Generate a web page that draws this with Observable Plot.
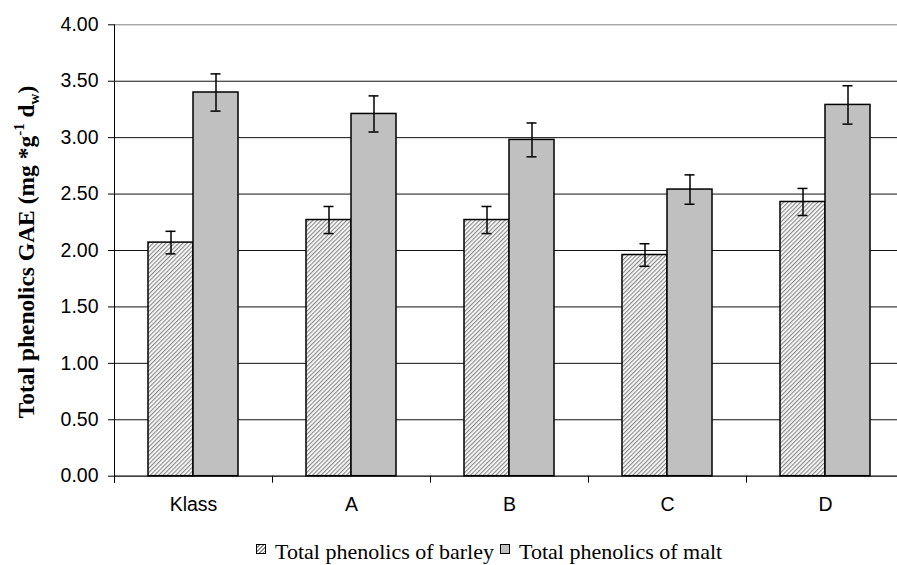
<!DOCTYPE html>
<html><head><meta charset="utf-8">
<script src="https://cdn.jsdelivr.net/npm/d3@7"></script>
<script src="https://cdn.jsdelivr.net/npm/@observablehq/plot@0.6"></script>
<style>
body{margin:0;background:#fff;}
#wrap{width:897px;height:565px;position:relative;overflow:hidden;background:#fff}
#legend{position:absolute;left:256px;top:541px;white-space:nowrap;font-family:"Liberation Serif","Times New Roman",serif;font-size:22px;line-height:22px;color:#000}
.sw{display:inline-block;width:8px;height:8px;border:1px solid #000;vertical-align:baseline;margin-bottom:5px;margin-right:9px}
.sw.barley{background:repeating-linear-gradient(135deg,#fff 0,#fff 1.4px,#888 1.4px,#888 2.6px)}
.sw.malt{background:#c0c0c0;margin-left:6px}
</style></head><body>
<div id="wrap"><div id="chart"></div>
<div id="legend"><span class="sw barley"></span>Total phenolics of barley<span class="sw malt"></span>Total phenolics of malt</div>
</div>
<script>
const categories = ["Klass", "A", "B", "C", "D"];
const seriesKeys = ["barley", "malt"];
const barley = [2.07, 2.27, 2.27, 1.96, 2.43];
const barleyErr = [0.10, 0.12, 0.12, 0.10, 0.12];
const malt = [3.40, 3.21, 2.98, 2.54, 3.29];
const maltErr = [0.165, 0.16, 0.15, 0.13, 0.17];
const yTicks = [0, 0.5, 1, 1.5, 2, 2.5, 3, 3.5, 4];

const rows = categories.flatMap((c, i) => [
  {cat: c, series: "barley", value: barley[i], err: barleyErr[i]},
  {cat: c, series: "malt", value: malt[i], err: maltErr[i]}
]);

const H = 525, MT = 24.3, MB = 49.3;
const plot = Plot.plot({
  width: 897, height: H,
  marginLeft: 113, marginRight: -8, marginTop: MT, marginBottom: MB,
  fx: {domain: categories, padding: 0, label: null},
  x: {domain: seriesKeys, paddingInner: 0, paddingOuter: 0.74, axis: null},
  y: {domain: [0, 4], label: null},
  style: {fontFamily: "Arial, 'Liberation Sans', sans-serif", fontSize: "19.5px", color: "#000", background: "#fff"},
  marks: [
    Plot.gridY(yTicks.filter(t => t > 0 && t < 4), {stroke: "#111", strokeOpacity: 1}),
    Plot.gridY([4], {stroke: "#808080", strokeOpacity: 1}),
    Plot.barY(rows, {filter: d => d.series === "barley", fx: "cat", x: "series", y: "value", fill: "url(#hatch)", stroke: "#000", strokeWidth: 1.5}),
    Plot.barY(rows, {filter: d => d.series === "malt", fx: "cat", x: "series", y: "value", fill: "#c0c0c0", stroke: "#000", strokeWidth: 1.5}),
    Plot.ruleX(rows, {fx: "cat", x: "series", y1: d => d.value - d.err, y2: d => d.value + d.err, stroke: "#000", strokeWidth: 1.5}),
    Plot.tickY(rows, {fx: "cat", x: "series", y: d => d.value + d.err, insetLeft: 17.5, insetRight: 17.5, stroke: "#000", strokeWidth: 1.5}),
    Plot.tickY(rows, {fx: "cat", x: "series", y: d => d.value - d.err, insetLeft: 17.5, insetRight: 17.5, stroke: "#000", strokeWidth: 1.5}),
    Plot.ruleY([0], {stroke: "#000", strokeWidth: 1.2}),
    Plot.frame({anchor: "left", insetTop: H - MT - MB, insetBottom: -6, stroke: "#000"}),
    Plot.frame({anchor: "left", fx: ["Klass"], insetBottom: -6, stroke: "#000"}),
    Plot.axisY({ticks: yTicks, tickFormat: d3.format(".2f"), tickSize: 6, tickPadding: 10, label: null}),
    Plot.axisFx({anchor: "bottom", tickSize: 0, tickPadding: 21, label: null})
  ]
});

const svg = d3.select(plot);
const defs = svg.insert("defs", ":first-child");
const pat = defs.append("pattern").attr("id", "hatch").attr("patternUnits", "userSpaceOnUse")
  .attr("width", 3).attr("height", 3).attr("patternTransform", "rotate(45)");
pat.append("rect").attr("width", 3).attr("height", 3).attr("fill", "#fff");
pat.append("line").attr("x1", 0.6).attr("y1", 0).attr("x2", 0.6).attr("y2", 3).attr("stroke", "#8a8a8a").attr("stroke-width", 1.2);

const title = svg.append("text")
  .attr("transform", "translate(34,252) rotate(-90)")
  .attr("text-anchor", "middle")
  .attr("font-family", "'Liberation Serif','Times New Roman',serif")
  .attr("font-weight", "bold").attr("font-size", 23.5).attr("fill", "#000");
title.append("tspan").text("Total phenolics GAE (mg *g");
title.append("tspan").attr("font-size", 15).attr("dy", -10).text("-1");
title.append("tspan").attr("dy", 10).text(" d");
title.append("tspan").attr("font-size", 15).attr("dy", 5).text("w");
title.append("tspan").attr("dy", -5).text(")");

document.getElementById("chart").appendChild(plot);
</script>
</body></html>
